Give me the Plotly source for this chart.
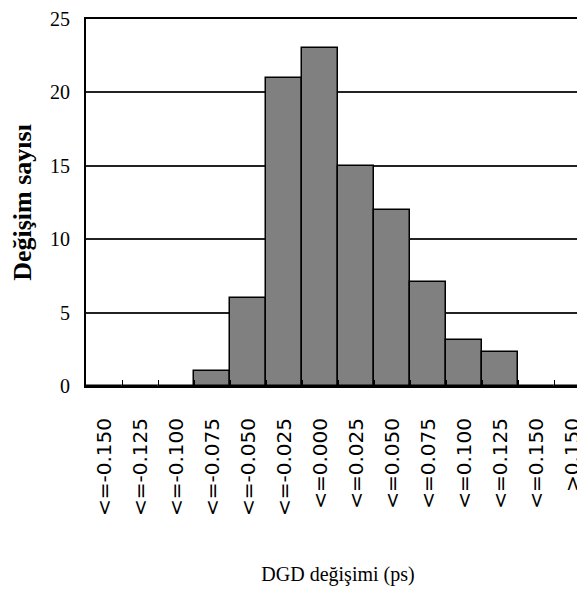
import plotly.graph_objects as go

categories = ["<=-0.150", "<=-0.125", "<=-0.100", "<=-0.075", "<=-0.050", "<=-0.025",
              "<=0.000", "<=0.025", "<=0.050", "<=0.075", "<=0.100", "<=0.125",
              "<=0.150", ">0.150"]
counts = [0, 0, 0, 1, 6, 21, 23, 15, 12, 7.1, 3.1, 2.3, 0, 0]
y_ticks = [0, 5, 10, 15, 20, 25]

x_title = "DGD değişimi (ps)"
y_title = "Değişim sayısı"

fig = go.Figure(go.Bar(
    x=categories, y=counts,
    marker=dict(color="#808080", line=dict(color="#000000", width=1.5)),
))

fig.update_layout(
    width=585, height=603,
    margin=dict(l=78, r=3, t=11, b=225, autoexpand=False),
    paper_bgcolor="white", plot_bgcolor="white",
    bargap=0, showlegend=False,
    xaxis=dict(
        type="category", range=[-0.5, 13.5], automargin=False,
        showline=True, linecolor="black", linewidth=2, mirror=True,
        ticks="inside", ticklen=6, tickcolor="black", tickwidth=1, tickson="boundaries",
        tickangle=-90, ticklabelstandoff=22,
        tickfont=dict(family="DejaVu Sans", size=20, color="black"),
        showgrid=False,
        title=dict(text=x_title, font=dict(family="Liberation Serif", size=20, color="black"), standoff=52),
    ),
    yaxis=dict(
        range=[0, 25], tickvals=y_ticks, automargin=False,
        showline=True, linecolor="black", linewidth=2,
        ticks="", ticklabelstandoff=10,
        tickfont=dict(family="Liberation Serif", size=20, color="black"),
        showgrid=True, gridcolor="#222222", gridwidth=1.5,
        zeroline=False,
        title=dict(text="<b>" + y_title + "</b>", font=dict(family="Liberation Serif", size=26, color="black"), standoff=18),
    ),
)

fig.write_html("out.html")
